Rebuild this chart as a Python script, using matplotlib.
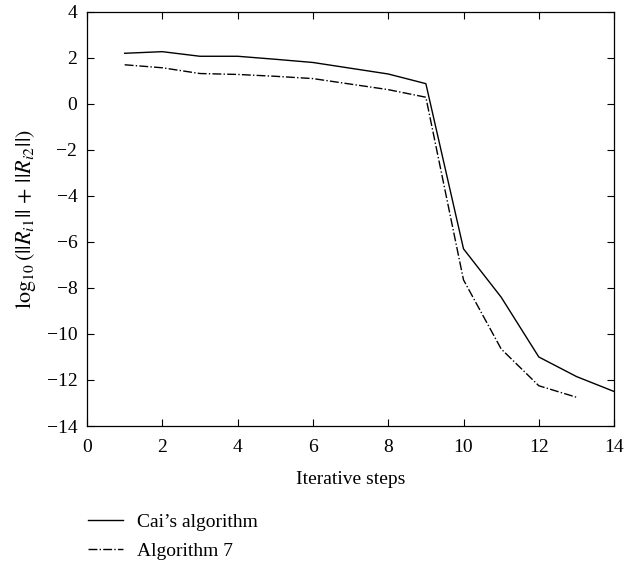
import matplotlib
matplotlib.use("Agg")
import matplotlib.pyplot as plt

steps_cai = [1, 2, 3, 4, 5, 6, 7, 8, 9, 10, 11, 12, 13, 14]
cai = [2.2, 2.27, 2.07, 2.07, 1.94, 1.8, 1.55, 1.3, 0.88, -6.3, -8.4, -11.0, -11.85, -12.5]

steps_alg7 = [1, 2, 3, 4, 5, 6, 7, 8, 9, 10, 11, 12, 13]
alg7 = [1.7, 1.57, 1.32, 1.28, 1.2, 1.1, 0.86, 0.62, 0.29, -7.65, -10.65, -12.25, -12.75]

plt.rcParams["font.family"] = "Liberation Serif"
plt.rcParams["mathtext.fontset"] = "stix"

fig = plt.figure(figsize=(6.26, 5.65), dpi=100)
ax = fig.add_axes([0.139, 0.246, 0.842, 0.733])

ax.plot(steps_cai, cai, color="black", linewidth=1.0, linestyle="-", label="Cai’s algorithm")
ax.plot(steps_alg7, alg7, color="black", linewidth=1.0, linestyle="-.", label="Algorithm 7")

ax.set_xlim(0, 14)
ax.set_ylim(-14, 4)
ax.set_xticks(range(0, 15, 2))
ax.set_yticks(range(-14, 5, 2))
ax.tick_params(direction="in", top=True, right=True, labelsize=14, length=5)
ax.tick_params(axis="y", pad=7)
ax.tick_params(axis="x", pad=9)
for s in ax.spines.values():
    s.set_linewidth(0.9)

ax.set_xlabel("Iterative steps", fontsize=14, labelpad=11)
ax.set_ylabel(r"$\log_{10}(||R_{i1}||\,+\,||R_{i2}||)$", fontsize=16, labelpad=6)

fig.legend(loc="upper left", bbox_to_anchor=(0.112, 0.123), frameon=False,
           fontsize=14, handlelength=1.8, handletextpad=0.72, labelspacing=0.6)

fig.savefig("out.png", dpi=100)
